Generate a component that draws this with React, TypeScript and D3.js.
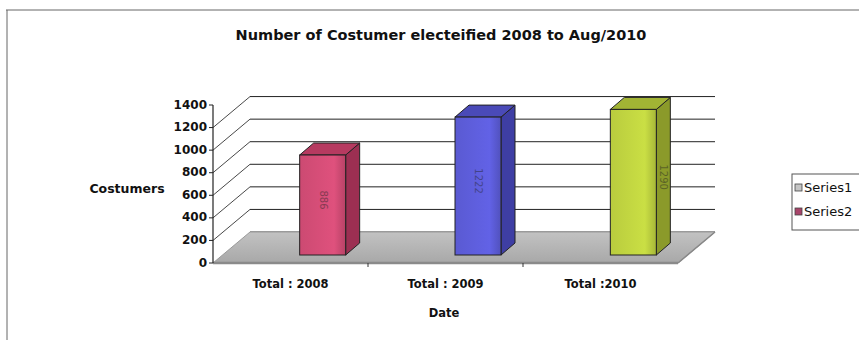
import React from "react";
import * as d3 from "d3";

const categories = ["Total : 2008", "Total : 2009", "Total :2010"];
const values = [886, 1222, 1290];
const valueLabels = ["886", "1222", "1290"];
const yTicks = [0, 200, 400, 600, 800, 1000, 1200, 1400];
const legendItems = ["Series1", "Series2"];

const barFront = ["#cc4a72", "#5a5ad2", "#b9cc3e"];
const barSide = ["#9c2f52", "#3e3ea4", "#8b9a2a"];
const barTop = ["#b63a60", "#4a4ab8", "#a2b434"];
const legendColors = ["#c4c4c4", "#a8456a"];

const W = 859;
const H = 340;
const FONT = "'DejaVu Sans', Arial, sans-serif";

export default function App() {
  const y = d3.scaleLinear().domain([0, 1400]).range([263, 105]);
  const xFront = d3.scaleBand<string>().domain(categories).range([213, 678]);
  const xBar = d3.scaleBand<string>().domain(categories).range([245, 711]);
  const wallDx = 37;
  const wallDy = -31;
  const barDy = -8;
  const barW = 46;
  const sideDx = 14;
  const sideDy = -12;
  const x0 = xFront.range()[0];
  const x1 = xFront.range()[1];
  const gridLevels = yTicks.filter((v) => v > 0 && y(v) + wallDy >= 90);

  return (
    <svg width={W} height={H} style={{ position: "absolute", left: 0, top: 0, background: "#fff" }}>
      <defs>
        {barFront.map((c, i) => (
          <linearGradient key={i} id={`bf${i}`} x1="0" x2="1" y1="0" y2="0">
            <stop offset="0" stopColor={c} />
            <stop offset="0.75" stopColor={d3.color(c)!.brighter(0.25).toString()} />
            <stop offset="1" stopColor={d3.color(c)!.darker(0.3).toString()} />
          </linearGradient>
        ))}
        <linearGradient id="floorGrad" x1="0" x2="0" y1="0" y2="1">
          <stop offset="0" stopColor="#c2c2c2" />
          <stop offset="1" stopColor="#a8a8a8" />
        </linearGradient>
      </defs>
      <rect x={0} y={0} width={W} height={H} fill="#fff" />
      {/* frame */}
      <line x1={6} y1={10} x2={W} y2={10} stroke="#666" strokeWidth={1} />
      <line x1={7} y1={10} x2={7} y2={H} stroke="#666" strokeWidth={1} />

      {/* title */}
      <text x={441} y={40} textAnchor="middle" fontFamily={FONT} fontWeight="bold" fontSize={14.5} fill="#111">
        Number of Costumer electeified 2008 to Aug/2010
      </text>

      {/* back wall gridlines and side wall diagonals */}
      <line x1={x0 + wallDx} y1={y(0) + wallDy} x2={x1 + wallDx} y2={y(0) + wallDy} stroke="#333" strokeWidth={1} />
      {gridLevels.map((v) => (
        <g key={v}>
          <line x1={x0} y1={y(v)} x2={x0 + wallDx} y2={y(v) + wallDy} stroke="#333" strokeWidth={0.9} />
          <line x1={x0 + wallDx} y1={y(v) + wallDy} x2={x1 + wallDx} y2={y(v) + wallDy} stroke="#222" strokeWidth={1} />
        </g>
      ))}

      {/* floor */}
      <polygon
        points={`${x0},${y(0)} ${x1},${y(0)} ${x1 + wallDx},${y(0) + wallDy} ${x0 + wallDx},${y(0) + wallDy}`}
        fill="url(#floorGrad)"
        stroke="#9a9a9a"
        strokeWidth={1}
      />
      <line x1={x0} y1={y(0)} x2={x1} y2={y(0)} stroke="#8a8a8a" strokeWidth={2.5} />
      <line x1={x1} y1={y(0)} x2={x1 + wallDx} y2={y(0) + wallDy} stroke="#888" strokeWidth={1.5} />

      {/* bars */}
      {categories.map((c, i) => {
        const cx = (xBar(c) as number) + xBar.bandwidth() / 2;
        const bx0 = cx - barW / 2;
        const bx1 = cx + barW / 2;
        const base = y(0) + barDy;
        const top = y(values[i]) + barDy;
        const side = `${bx1},${top} ${bx1 + sideDx},${top + sideDy} ${bx1 + sideDx},${base + sideDy} ${bx1},${base}`;
        const topFace = `${bx0},${top} ${bx0 + sideDx},${top + sideDy} ${bx1 + sideDx},${top + sideDy} ${bx1},${top}`;
        const lx = i === 2 ? bx1 + sideDx / 2 : cx;
        const ly = (top + base) / 2 - 5;
        return (
          <g key={c}>
            <polygon points={side} fill={barSide[i]} stroke="#222" strokeWidth={1} />
            <polygon points={topFace} fill={barTop[i]} stroke="#222" strokeWidth={1} />
            <rect x={bx0} y={top} width={barW} height={base - top} fill={`url(#bf${i})`} stroke="#222" strokeWidth={1} />
            <text
              transform={`translate(${lx},${ly}) rotate(90)`}
              textAnchor="middle"
              dominantBaseline="middle"
              fontFamily={FONT}
              fontSize={10}
              fill="#222"
              opacity={0.45}
            >
              {valueLabels[i]}
            </text>
          </g>
        );
      })}

      {/* y axis */}
      <line x1={x0} y1={y(1400)} x2={x0} y2={y(0)} stroke="#222" strokeWidth={1.2} />
      {yTicks.map((v) => (
        <g key={v}>
          <line x1={x0 - 4} y1={y(v)} x2={x0} y2={y(v)} stroke="#222" strokeWidth={1} />
          <text x={x0 - 6} y={y(v)} textAnchor="end" dominantBaseline="middle" fontFamily={FONT} fontWeight="bold" fontSize={12} fill="#111">
            {v}
          </text>
        </g>
      ))}
      <text x={127} y={189} textAnchor="middle" dominantBaseline="middle" fontFamily={FONT} fontWeight="bold" fontSize={12.5} fill="#111">
        Costumers
      </text>

      {/* x axis ticks and labels */}
      {categories.slice(1).map((c) => (
        <line key={c} x1={xFront(c) as number} y1={y(0)} x2={xFront(c) as number} y2={y(0) + 4} stroke="#333" strokeWidth={1} />
      ))}
      {categories.map((c) => (
        <text
          key={c}
          x={(xFront(c) as number) + xFront.bandwidth() / 2}
          y={284}
          textAnchor="middle"
          dominantBaseline="middle"
          fontFamily={FONT}
          fontWeight="bold"
          fontSize={11.5}
          fill="#111"
        >
          {c}
        </text>
      ))}
      <text x={444} y={313} textAnchor="middle" dominantBaseline="middle" fontFamily={FONT} fontWeight="bold" fontSize={11.5} fill="#111">
        Date
      </text>

      {/* legend */}
      <rect x={792} y={174} width={80} height={56} fill="#fff" stroke="#555" strokeWidth={1} />
      {legendItems.map((s, i) => (
        <g key={s}>
          <rect x={795} y={184 + i * 24} width={7} height={7} fill={legendColors[i]} stroke="#444" strokeWidth={0.8} />
          <text x={804} y={188 + i * 24} dominantBaseline="middle" fontFamily={FONT} fontSize={13} fill="#111">
            {s}
          </text>
        </g>
      ))}
    </svg>
  );
}
